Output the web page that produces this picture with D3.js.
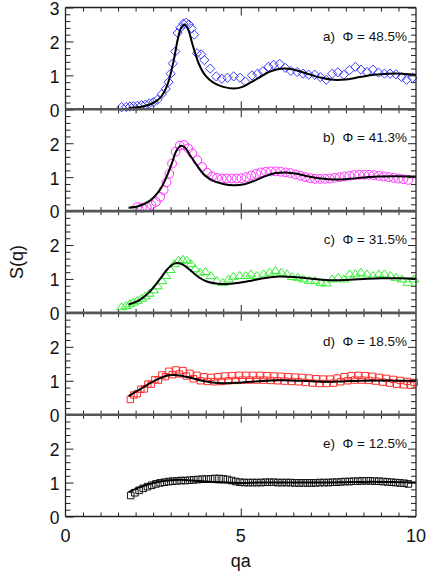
<!DOCTYPE html>
<html><head><meta charset="utf-8">
<script src="https://cdn.jsdelivr.net/npm/d3@7"></script>
<style>
html,body{margin:0;padding:0;background:#fff;}
svg text{font-family:"Liberation Sans",Arial,Helvetica,sans-serif;}
</style></head>
<body><svg id="chart" width="434" height="578"></svg>
<script>
// ---------- DATA ----------
const panelLabels = ["a)  \u03A6 = 48.5%","b)  \u03A6 = 41.3%","c)  \u03A6 = 31.5%","d)  \u03A6 = 18.5%","e)  \u03A6 = 12.5%"];
const xTickLabels = [0,5,10];
const yTickLabels = [0,1,2,3];

// panel a (diamonds)
const qA = [1.60,1.73,1.84,1.94,2.05,2.17,2.28,2.39,2.51,2.62,2.75,2.86,2.94,3.00,3.06,3.13,3.20,3.28,3.36,3.44,3.52,3.60,3.67,3.75,3.87,3.96,4.13,4.30,4.46,4.62,4.80,4.98,5.13,5.32,5.48,5.63,5.79,5.94,6.11,6.27,6.43,6.61,6.78,6.94,7.11,7.27,7.44,7.61,7.77,7.94,8.10,8.27,8.43,8.60,8.77,8.93,9.10,9.26,9.43,9.59,9.73,9.90];
const sA = [0.06,0.07,0.08,0.09,0.10,0.12,0.14,0.17,0.21,0.28,0.45,0.60,0.80,1.05,1.35,1.70,2.25,2.40,2.52,2.55,2.50,2.38,2.20,1.65,1.62,1.45,1.20,0.97,0.90,0.93,0.97,0.93,0.82,1.00,1.05,1.12,1.25,1.31,1.34,1.22,1.13,1.10,1.05,1.02,1.02,0.95,0.87,1.05,1.09,1.02,1.15,1.25,1.17,1.10,1.17,1.08,1.05,1.05,1.03,0.95,0.87,0.93];
const fitQA = [1.80,2.00,2.20,2.40,2.60,2.75,2.90,3.00,3.10,3.20,3.30,3.40,3.50,3.60,3.70,3.80,3.95,4.10,4.30,4.50,4.80,5.05,5.30,5.55,5.80,6.05,6.25,6.50,6.90,7.30,7.65,8.00,8.40,8.80,9.20,9.60,10.0];
const fitSA = [0.03,0.05,0.08,0.14,0.25,0.40,0.70,1.05,1.50,2.05,2.40,2.50,2.35,2.00,1.65,1.35,1.05,0.88,0.74,0.66,0.61,0.66,0.80,0.95,1.10,1.18,1.20,1.17,1.05,0.93,0.87,0.88,0.95,1.02,1.05,1.05,1.02];

// panel b (circles)
const qB = [2.05,2.18,2.32,2.45,2.58,2.70,2.80,2.88,2.96,3.04,3.14,3.26,3.38,3.50,3.62,3.76,3.90,4.04,4.18,4.32,4.46,4.60,4.74,4.88,5.02,5.16,5.30,5.44,5.58,5.72,5.86,6.00,6.14,6.28,6.42,6.56,6.70,6.84,6.98,7.12,7.26,7.40,7.54,7.68,7.82,7.96,8.10,8.24,8.38,8.52,8.66,8.80,8.94,9.08,9.22,9.36,9.50,9.64,9.78];
const sB = [0.12,0.10,0.13,0.18,0.27,0.42,0.62,0.85,1.10,1.40,1.75,1.93,1.95,1.85,1.70,1.50,1.30,1.13,1.02,0.98,0.96,0.96,0.96,0.96,0.97,1.00,1.05,1.10,1.14,1.16,1.17,1.17,1.16,1.14,1.12,1.08,1.04,1.00,0.97,0.95,0.95,0.95,0.96,0.98,1.00,1.02,1.04,1.06,1.07,1.07,1.07,1.06,1.04,1.02,1.00,0.98,0.96,0.94,0.92];
const fitQB = [1.80,2.10,2.40,2.60,2.75,2.90,3.05,3.15,3.28,3.40,3.55,3.75,3.95,4.20,4.50,4.80,5.10,5.40,5.70,6.00,6.30,6.60,6.90,7.30,7.70,8.10,8.50,8.90,9.40,10.0];
const fitSB = [0.10,0.15,0.30,0.50,0.72,1.05,1.45,1.75,1.92,1.88,1.65,1.35,1.08,0.90,0.80,0.76,0.79,0.90,1.03,1.12,1.14,1.10,1.03,0.96,0.93,0.95,0.99,1.02,1.03,1.02];

// panel c (triangles)
const qC = [1.60,1.73,1.84,1.94,2.05,2.17,2.28,2.39,2.51,2.62,2.75,2.86,2.99,3.10,3.22,3.35,3.46,3.58,3.70,3.84,3.99,4.15,4.32,4.49,4.65,4.79,4.97,5.14,5.29,5.46,5.65,5.82,5.99,6.16,6.32,6.47,6.63,6.79,6.96,7.12,7.29,7.44,7.61,7.78,7.94,8.11,8.27,8.43,8.60,8.77,8.94,9.10,9.27,9.43,9.60,9.77,9.94];
const sC = [0.18,0.22,0.27,0.32,0.37,0.43,0.50,0.58,0.68,0.80,0.95,1.10,1.28,1.45,1.55,1.58,1.55,1.45,1.30,1.20,1.22,1.10,0.95,0.90,1.00,1.08,1.10,1.10,1.15,1.10,1.15,1.20,1.25,1.20,1.15,1.07,1.05,1.00,0.96,0.95,0.90,0.88,1.00,1.05,1.00,1.15,1.15,1.20,1.15,1.10,1.15,1.15,1.10,1.05,1.00,0.90,1.00];
const fitQC = [1.80,2.10,2.40,2.70,2.90,3.10,3.20,3.35,3.55,3.80,4.05,4.35,4.60,4.90,5.30,5.70,6.10,6.50,6.90,7.30,7.70,8.10,8.50,9.00,9.50,10.0];
const fitSC = [0.25,0.37,0.62,1.00,1.28,1.45,1.47,1.42,1.27,1.05,0.92,0.86,0.85,0.88,0.95,1.03,1.07,1.06,1.02,0.98,0.96,0.98,1.00,1.02,1.02,1.01];

// panel d (red squares)
const qD = [1.85,1.95,2.05,2.15,2.25,2.35,2.45,2.55,2.65,2.75,2.85,2.95,3.05,3.15,3.25,3.35,3.45,3.55,3.65,3.75,3.85,3.95,4.05,4.15,4.25,4.35,4.45,4.55,4.65,4.75,4.85,4.95,5.05,5.15,5.25,5.35,5.45,5.55,5.65,5.75,5.85,5.95,6.05,6.15,6.25,6.35,6.45,6.55,6.65,6.75,6.85,6.95,7.05,7.15,7.25,7.35,7.45,7.55,7.65,7.75,7.85,7.95,8.05,8.15,8.25,8.35,8.45,8.55,8.65,8.75,8.85,8.95,9.05,9.15,9.25,9.35,9.45,9.55,9.65,9.75,9.85,9.95];
const sD = [0.45,0.58,0.62,0.75,0.76,0.90,0.90,1.03,1.02,1.17,1.12,1.28,1.18,1.32,1.20,1.30,1.14,1.22,1.06,1.16,1.00,1.12,0.98,1.10,0.97,1.12,0.98,1.14,1.00,1.15,1.01,1.16,1.02,1.16,1.02,1.16,1.02,1.16,1.02,1.15,1.01,1.14,1.00,1.13,0.99,1.12,0.98,1.11,0.97,1.10,0.95,1.08,0.93,1.06,0.92,1.05,0.92,1.05,0.93,1.08,0.97,1.12,1.00,1.15,1.02,1.16,1.02,1.15,1.01,1.13,0.99,1.10,0.96,1.07,0.93,1.04,0.90,1.01,0.88,0.98,0.87,0.95];
const fitQD = [1.80,2.10,2.40,2.70,2.95,3.10,3.30,3.60,3.90,4.20,4.50,4.90,5.40,5.90,6.40,6.90,7.40,7.90,8.40,9.00,9.50,10.0];
const fitSD = [0.55,0.73,0.92,1.08,1.16,1.17,1.15,1.08,1.00,0.95,0.93,0.94,0.98,1.01,1.01,0.99,0.97,0.98,1.00,1.01,1.00,1.00];

// panel e (black squares)
const qE = [1.86,1.98,2.10,2.22,2.34,2.46,2.58,2.70,2.82,2.94,3.06,3.18,3.30,3.42,3.54,3.66,3.78,3.90,4.02,4.14,4.26,4.38,4.50,4.62,4.74,4.86,4.98,5.10,5.22,5.34,5.46,5.58,5.70,5.82,5.94,6.06,6.18,6.30,6.42,6.54,6.66,6.78,6.90,7.02,7.14,7.26,7.38,7.50,7.62,7.74,7.86,7.98,8.10,8.22,8.34,8.46,8.58,8.70,8.82,8.94,9.06,9.18,9.30,9.42,9.54,9.66,9.78];
const sE = [0.62,0.70,0.77,0.83,0.88,0.92,0.96,0.99,1.01,1.03,1.04,1.05,1.06,1.06,1.07,1.08,1.09,1.10,1.10,1.11,1.12,1.12,1.11,1.09,1.06,1.03,1.01,1.00,1.00,1.00,1.00,1.00,1.01,1.01,1.01,1.00,1.00,1.00,1.00,0.99,0.99,0.99,0.99,0.99,0.99,1.00,1.00,1.00,1.01,1.01,1.02,1.03,1.03,1.04,1.04,1.05,1.05,1.05,1.04,1.04,1.03,1.02,1.01,1.00,0.99,0.98,0.96];
const fitQE = [1.80,2.10,2.40,2.70,3.00,3.30,3.60,3.90,4.20,4.60,5.00,5.50,6.00,6.50,7.00,7.50,8.00,8.50,9.00,9.50,10.0];
const fitSE = [0.72,0.86,0.96,1.03,1.07,1.08,1.06,1.04,1.02,1.00,0.99,1.00,1.00,1.00,1.00,1.00,1.01,1.02,1.02,1.01,1.00];

const panelQ = [qA,qB,qC,qD,qE];
const panelS = [sA,sB,sC,sD,sE];
const panelFitQ = [fitQA,fitQB,fitQC,fitQD,fitQE];
const panelFitS = [fitSA,fitSB,fitSC,fitSD,fitSE];

(function(){
// ---------- STYLE ----------
const markerStyle = [
  {type:"diamond", color:"#3b3bff", size:4.6},
  {type:"circle",  color:"#ff33ff", size:4.4},
  {type:"triangle",color:"#33ee33", size:5.0},
  {type:"square",  color:"#ff2b2b", size:3.2},
  {type:"square",  color:"#111111", size:3.3}
];

const svg = d3.select("#chart");
const L = 65.5, R = 416, T = 7.5, B = 516.5;
const ph = (B - T)/5;
const x = d3.scaleLinear().domain([0,10]).range([L,R]);

function markerPath(type, r){
  if(type==="diamond") return `M0,${-r}L${r},0L0,${r}L${-r},0Z`;
  if(type==="circle") return d3.symbol(d3.symbolCircle, Math.PI*r*r)();
  if(type==="triangle") return `M0,${-r*0.8}L${r},${r*0.6}L${-r},${r*0.6}Z`;
  return `M${-r},${-r}L${r},${-r}L${r},${r}L${-r},${r}Z`;
}

const minorY = d3.range(0,3.001,0.2).map(v=>+v.toFixed(1)).filter(v=>Math.abs(v-Math.round(v))>1e-6);
const majorY = [0,1,2,3];
const minorX = d3.range(0,10.001,0.5).filter(v=>v%5!==0);
const majorX = [5];

for(let i=0;i<5;i++){
  const y = d3.scaleLinear().domain([0,3]).range([T+(i+1)*ph, T+i*ph]);
  const g = svg.append("g");

  const la = g.append("g").attr("transform",`translate(${L},0)`);
  la.call(d3.axisLeft(y).tickValues(minorY).tickSize(-5).tickFormat(""));
  la.append("g").call(d3.axisLeft(y).tickValues(majorY).tickSize(-8).tickFormat(""));
  const ra = g.append("g").attr("transform",`translate(${R},0)`);
  ra.call(d3.axisRight(y).tickValues(minorY).tickSize(-5).tickFormat(""));
  ra.append("g").call(d3.axisRight(y).tickValues(majorY).tickSize(-8).tickFormat(""));
  const ba = g.append("g").attr("transform",`translate(0,${y(0)})`);
  ba.call(d3.axisBottom(x).tickValues(minorX).tickSize(-4).tickFormat(""));
  ba.append("g").call(d3.axisBottom(x).tickValues(majorX).tickSize(-8).tickFormat(""));
  const ta = g.append("g").attr("transform",`translate(0,${y(3)})`);
  ta.call(d3.axisTop(x).tickValues(minorX).tickSize(-4).tickFormat(""));
  ta.append("g").call(d3.axisTop(x).tickValues(majorX).tickSize(-8).tickFormat(""));
  g.selectAll(".domain").remove();
  g.selectAll(".tick line").attr("stroke","#222").attr("stroke-width",1);

  const labs = i===0 ? yTickLabels : yTickLabels.slice(0,3);
  g.selectAll(".ylab").data(labs).enter().append("text")
    .attr("x", L-6).attr("y", d=>y(d)).attr("dy","0.42em")
    .attr("text-anchor","end").attr("font-size",17.5).attr("fill","#111")
    .text(d=>d);

  const fq = panelFitQ[i], fs = panelFitS[i];
  const line = d3.line().x(d=>x(d[0])).y(d=>y(d[1])).curve(d3.curveCatmullRom.alpha(0.5));
  const ms = markerStyle[i];
  const pts = panelQ[i].map((q,k)=>[q,panelS[i][k]]);
  g.append("g").selectAll("path").data(pts).enter().append("path")
    .attr("d", markerPath(ms.type, ms.size))
    .attr("transform", d=>`translate(${x(d[0])},${y(d[1])})`)
    .attr("fill","none").attr("stroke",ms.color).attr("stroke-width",1);
  g.append("path").datum(fq.map((q,k)=>[q,fs[k]]))
    .attr("d", line).attr("fill","none").attr("stroke","#000").attr("stroke-width",2);

  g.append("text").attr("x",407).attr("y",T+i*ph+33)
    .attr("text-anchor","end").attr("font-size",13.5).attr("fill","#111")
    .style("white-space","pre").text(panelLabels[i]);
}

svg.append("line").attr("x1",L).attr("x2",L).attr("y1",T).attr("y2",B).attr("stroke","#222").attr("stroke-width",1.3);
svg.append("line").attr("x1",R).attr("x2",R).attr("y1",T).attr("y2",B).attr("stroke","#222").attr("stroke-width",1.3);
svg.append("line").attr("x1",L).attr("x2",R).attr("y1",T).attr("y2",T).attr("stroke","#222").attr("stroke-width",1.3);
svg.append("line").attr("x1",L).attr("x2",R).attr("y1",B).attr("y2",B).attr("stroke","#222").attr("stroke-width",1.3);
for(let i=1;i<5;i++){
  const yy = T+i*ph;
  svg.append("line").attr("x1",L).attr("x2",R).attr("y1",yy).attr("y2",yy).attr("stroke","#555").attr("stroke-width",2.6);
}

svg.selectAll(".xlab").data(xTickLabels).enter().append("text")
  .attr("x", d=>x(d)).attr("y", B+25)
  .attr("text-anchor","middle").attr("font-size",18).attr("fill","#111").text(d=>d);

svg.append("text").attr("x",x(5)).attr("y",567).attr("text-anchor","middle")
  .attr("font-size",18).attr("fill","#111").text("qa");
svg.append("text").attr("transform",`translate(23,262) rotate(-90)`).attr("text-anchor","middle")
  .attr("font-size",18).attr("fill","#111").text("S(q)");
})();
</script></body></html>
